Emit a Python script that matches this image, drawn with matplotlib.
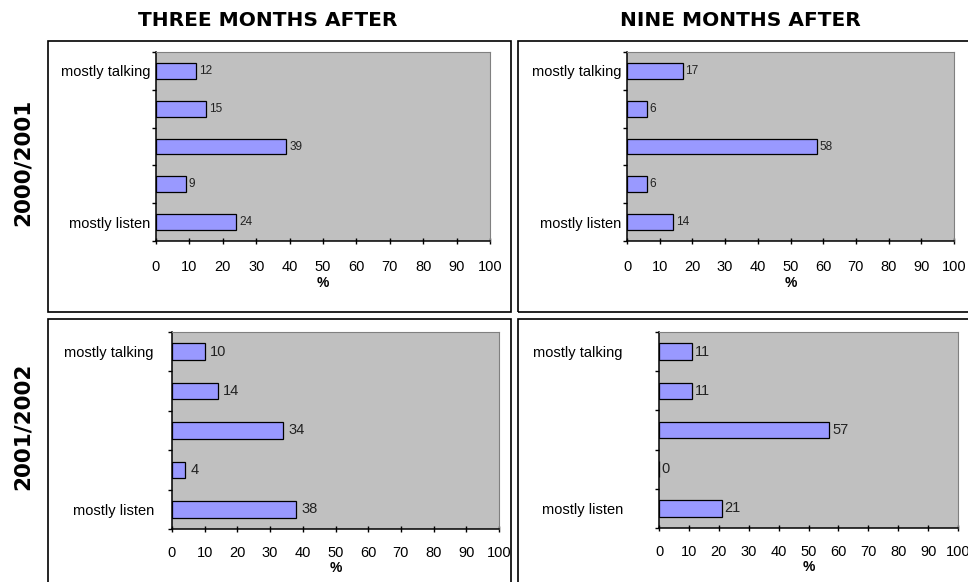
import numpy as np
import matplotlib
matplotlib.use("Agg")
import matplotlib.pyplot as plt
from matplotlib.patches import Rectangle

W, H = 968, 582

# data (top to bottom order of bars)
categories = ["mostly talking", "", "", "", "mostly listen"]
col_titles = ["THREE MONTHS AFTER", "NINE MONTHS AFTER"]
row_titles = ["2000/2001", "2001/2002"]
three_2000 = [12, 15, 39, 9, 24]
nine_2000 = [17, 6, 58, 6, 14]
three_2001 = [10, 14, 34, 4, 38]
nine_2001 = [11, 11, 57, 0, 21]
xticks = [0, 10, 20, 30, 40, 50, 60, 70, 80, 90, 100]

BAR = "#9999FF"
GRAY = "#C0C0C0"
TEXT = "#222222"


def px(x0, y0, x1, y1):
    # pixel box -> figure coords
    return [x0 / W, 1 - y1 / H, (x1 - x0) / W, (y1 - y0) / H]


def draw_panel(fig, rect, values, ylab_pad, val_size, val_off, xl_pad):
    ax = fig.add_axes(px(*rect))
    ax.set_facecolor(GRAY)
    n = len(categories)
    y = np.arange(n)
    ax.barh(y, values, height=0.42, color=BAR, edgecolor="black", linewidth=0.9)
    for yi, v in zip(y, values):
        ax.annotate(str(v), (v, yi), xytext=(val_off, 0), textcoords="offset points",
                    ha="left", va="center", fontsize=val_size, color=TEXT,
                    family="Liberation Sans")
    ax.set_xlim(0, 100)
    ax.set_ylim(n - 0.5, -0.5)
    ax.set_yticks(y)
    ax.set_yticklabels(categories, family="Liberation Sans", fontsize=10.5)
    ax.set_yticks(np.arange(n + 1) - 0.5, minor=True)
    ax.tick_params(axis="y", which="major", length=0, pad=ylab_pad)
    ax.tick_params(axis="y", which="minor", length=3, direction="out", width=1)
    ax.set_xticks(xticks)
    ax.set_xticklabels([str(t) for t in xticks], family="Liberation Sans", fontsize=10.5)
    ax.tick_params(axis="x", length=4, direction="inout", width=1, pad=xl_pad)
    ax.set_xlabel("%", fontweight="bold", fontsize=10, labelpad=1,
                  family="Liberation Sans")
    for s in ["top", "right"]:
        ax.spines[s].set_color("#808080")
    for s in ["left", "bottom"]:
        ax.spines[s].set_color("black")
        ax.spines[s].set_linewidth(1.1)
    return ax


fig = plt.figure(figsize=(W / 100, H / 100), dpi=100)

# frames around each chart
for (x0, y0, x1, y1) in [(48, 41, 511, 312), (518, 41, 975, 312),
                         (48, 319, 511, 590), (518, 319, 975, 590)]:
    fig.patches.append(Rectangle((x0 / W, 1 - y1 / H), (x1 - x0) / W, (y1 - y0) / H,
                                 transform=fig.transFigure, fill=False,
                                 edgecolor="black", linewidth=1.2))

draw_panel(fig, (156, 52, 490, 241), three_2000, 4, 8.5, 2, 12)
draw_panel(fig, (627, 52, 954, 241), nine_2000, 4, 8.5, 2, 12)
draw_panel(fig, (172, 332, 499, 529), three_2001, 13, 10.5, 4, 10)
draw_panel(fig, (659, 332, 958, 528), nine_2001, 26, 10.5, 2, 10)

for x, t in zip([268, 740], col_titles):
    fig.text(x / W, 1 - 20 / H, t, ha="center", va="center",
             fontsize=14.5, fontweight="heavy")
for y, t in zip([162, 426], row_titles):
    fig.text(23 / W, 1 - y / H, t, ha="center", va="center", rotation=90,
             fontsize=15.5, fontweight="heavy")

fig.savefig("out.png", dpi=100)
